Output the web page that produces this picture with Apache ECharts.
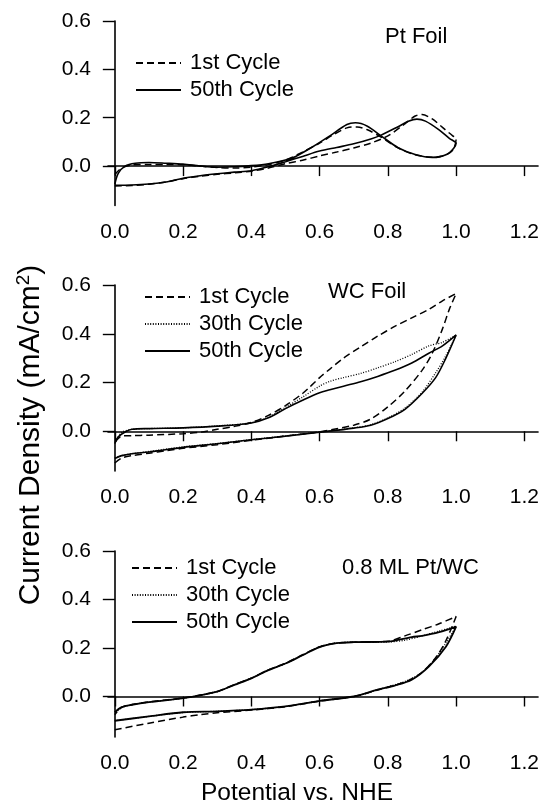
<!DOCTYPE html>
<html>
<head>
<meta charset="utf-8">
<script src="https://cdn.jsdelivr.net/npm/echarts@6/dist/echarts.min.js"></script>
<style>
  html, body { margin: 0; padding: 0; background: #fff; }
  #chart { width: 542px; height: 804px; }
</style>
</head>
<body>
<div id="chart"></div>
<script>
// tick values shared by every panel
const xTicks = [0, 0.2, 0.4, 0.6, 0.8, 1.0, 1.2]
const yTicks = [0, 0.2, 0.4, 0.6]

// Pt Foil: forward sweep 0 -> 1, then back 1 -> 0
const ptCycle1 = [
  [0, -0.082], [0.05, -0.08], [0.1, -0.075], [0.15, -0.066], [0.2, -0.052], [0.25, -0.042],
  [0.3, -0.034], [0.35, -0.028], [0.4, -0.021], [0.45, -0.008], [0.5, 0.01], [0.55, 0.024],
  [0.6, 0.042], [0.65, 0.058], [0.7, 0.075], [0.75, 0.095], [0.8, 0.125], [0.85, 0.175],
  [0.88, 0.207], [0.9, 0.213], [0.93, 0.195], [0.96, 0.16], [0.99, 0.125], [1.0, 0.115],
  [0.99, 0.065], [0.96, 0.042], [0.93, 0.037], [0.88, 0.047], [0.83, 0.075], [0.78, 0.12],
  [0.74, 0.15], [0.71, 0.162], [0.68, 0.158], [0.64, 0.13], [0.6, 0.095], [0.55, 0.058],
  [0.5, 0.025], [0.45, 0.006], [0.4, -0.004], [0.35, -0.008], [0.3, -0.006], [0.25, 0.0],
  [0.2, 0.006], [0.15, 0.007], [0.1, 0.007], [0.05, 0.005], [0.02, -0.008], [0, -0.035]
]
const ptCycle50 = [
  [0, -0.079], [0.05, -0.078], [0.1, -0.074], [0.15, -0.066], [0.2, -0.05], [0.25, -0.04],
  [0.3, -0.032], [0.35, -0.025], [0.4, -0.019], [0.45, -0.003], [0.5, 0.018], [0.55, 0.04],
  [0.6, 0.062], [0.65, 0.077], [0.7, 0.092], [0.75, 0.112], [0.78, 0.128], [0.83, 0.163],
  [0.86, 0.185], [0.885, 0.194], [0.91, 0.186], [0.95, 0.15], [0.98, 0.115], [1.0, 0.094],
  [0.98, 0.055], [0.95, 0.038], [0.93, 0.036], [0.88, 0.048], [0.83, 0.076], [0.78, 0.125],
  [0.74, 0.165], [0.705, 0.179], [0.68, 0.172], [0.63, 0.125], [0.58, 0.08], [0.53, 0.04],
  [0.5, 0.025], [0.45, 0.01], [0.4, 0.002], [0.35, -0.003], [0.3, -0.005], [0.25, 0.0],
  [0.2, 0.008], [0.15, 0.012], [0.1, 0.015], [0.06, 0.012], [0.03, 0.0], [0.01, -0.03], [0, -0.075]
]

// WC Foil
const wcCycle1 = [
  [0, -0.13], [0.02, -0.11], [0.05, -0.1], [0.1, -0.09], [0.15, -0.08], [0.2, -0.07],
  [0.3, -0.055], [0.4, -0.037], [0.5, -0.02], [0.6, -0.002], [0.7, 0.025], [0.75, 0.05],
  [0.8, 0.1], [0.85, 0.165], [0.9, 0.25], [0.93, 0.32], [0.96, 0.42], [0.98, 0.5], [1.0, 0.565],
  [0.96, 0.535], [0.92, 0.5], [0.87, 0.465], [0.82, 0.43], [0.77, 0.39], [0.72, 0.346],
  [0.67, 0.3], [0.63, 0.255], [0.6, 0.22], [0.57, 0.18], [0.55, 0.155], [0.5, 0.105],
  [0.45, 0.065], [0.4, 0.036], [0.35, 0.02], [0.3, 0.008], [0.25, -0.004], [0.2, -0.01],
  [0.1, -0.016], [0.05, -0.018], [0.02, -0.02], [0, -0.045]
]
const wcCycle30 = [
  [0, -0.11], [0.02, -0.1], [0.05, -0.092], [0.1, -0.083], [0.2, -0.064], [0.3, -0.05],
  [0.4, -0.034], [0.5, -0.019], [0.6, -0.003], [0.7, 0.014], [0.75, 0.027], [0.8, 0.055],
  [0.85, 0.095], [0.9, 0.16], [0.94, 0.24], [0.97, 0.31], [1.0, 0.395],
  [0.96, 0.365], [0.92, 0.35], [0.87, 0.315], [0.82, 0.285], [0.77, 0.26], [0.72, 0.237],
  [0.67, 0.22], [0.63, 0.205], [0.6, 0.185], [0.55, 0.14], [0.5, 0.098], [0.45, 0.058],
  [0.4, 0.035], [0.3, 0.022], [0.2, 0.014], [0.1, 0.011], [0.05, 0.008], [0.02, -0.005], [0, -0.05]
]
const wcCycle50 = [
  [0, -0.112], [0.02, -0.1], [0.05, -0.092], [0.1, -0.085], [0.2, -0.066], [0.3, -0.051],
  [0.4, -0.035], [0.5, -0.02], [0.6, -0.004], [0.7, 0.013], [0.75, 0.025], [0.8, 0.052],
  [0.85, 0.09], [0.9, 0.155], [0.94, 0.22], [0.97, 0.3], [1.0, 0.395],
  [0.96, 0.35], [0.92, 0.32], [0.87, 0.28], [0.82, 0.25], [0.77, 0.225], [0.72, 0.203],
  [0.67, 0.185], [0.63, 0.17], [0.6, 0.158], [0.55, 0.127], [0.5, 0.093], [0.45, 0.055],
  [0.4, 0.034], [0.3, 0.021], [0.2, 0.014], [0.1, 0.011], [0.05, 0.008], [0.03, -0.003],
  [0.01, -0.023], [0, -0.05]
]

// 0.8 ML Pt/WC
const ptwcCycle1 = [
  [0, -0.137], [0.1, -0.11], [0.2, -0.085], [0.25, -0.075], [0.3, -0.067], [0.4, -0.056],
  [0.5, -0.042], [0.6, -0.019], [0.7, 0.0], [0.77, 0.027], [0.85, 0.06], [0.9, 0.1],
  [0.94, 0.16], [0.97, 0.23], [1.0, 0.33],
  [0.95, 0.3], [0.9, 0.275], [0.85, 0.25], [0.8, 0.228], [0.7, 0.224], [0.65, 0.22],
  [0.6, 0.205], [0.55, 0.172], [0.5, 0.137], [0.45, 0.11], [0.4, 0.076], [0.35, 0.049],
  [0.3, 0.021], [0.2, -0.006], [0.1, -0.022], [0.05, -0.033], [0.02, -0.045], [0, -0.075]
]
const ptwcCycle30 = [
  [0, -0.1], [0.1, -0.082], [0.2, -0.066], [0.3, -0.061], [0.4, -0.054], [0.5, -0.041],
  [0.6, -0.018], [0.7, 0.0], [0.77, 0.028], [0.85, 0.062], [0.9, 0.1], [0.94, 0.16],
  [0.97, 0.22], [1.0, 0.29],
  [0.95, 0.27], [0.9, 0.25], [0.85, 0.232], [0.8, 0.225], [0.7, 0.224], [0.65, 0.221],
  [0.6, 0.205], [0.55, 0.171], [0.5, 0.137], [0.45, 0.11], [0.4, 0.076], [0.35, 0.048],
  [0.3, 0.02], [0.2, -0.007], [0.1, -0.023], [0.05, -0.034], [0.02, -0.046], [0, -0.07]
]
const ptwcCycle50 = [
  [0, -0.1], [0.1, -0.082], [0.2, -0.065], [0.3, -0.061], [0.4, -0.054], [0.5, -0.041],
  [0.6, -0.018], [0.7, 0.0], [0.77, 0.028], [0.82, 0.045], [0.87, 0.069], [0.92, 0.123],
  [0.97, 0.205], [1.0, 0.288],
  [0.95, 0.265], [0.9, 0.25], [0.87, 0.245], [0.8, 0.226], [0.7, 0.224], [0.65, 0.22],
  [0.6, 0.204], [0.55, 0.17], [0.5, 0.136], [0.45, 0.109], [0.4, 0.075], [0.35, 0.048],
  [0.3, 0.02], [0.2, -0.007], [0.1, -0.023], [0.05, -0.034], [0.02, -0.044], [0, -0.065]
]

const font = 'Liberation Sans, Arial, Helvetica, sans-serif'
const dashed = [7, 4]
const dotted = [1, 1.6]

const panels = [
  { top: 21, height: 184.5, min: -0.163 },
  { top: 285, height: 186, min: -0.163 },
  { top: 551, height: 186, min: -0.167 }
]

function makeSeries(name, data, idx, type, width) {
  return {
    type: 'line',
    name: name,
    xAxisIndex: idx,
    yAxisIndex: idx,
    data: data,
    symbol: 'none',
    smooth: 0.3,
    silent: true,
    lineStyle: { color: '#000', width: width, type: type }
  }
}

const chart = echarts.init(document.getElementById('chart'))

const option = {
  backgroundColor: '#fff',
  animation: false,
  textStyle: { fontFamily: font },
  grid: panels.map(p => ({ left: 108, right: 2, top: p.top, height: p.height })),
  xAxis: panels.map((p, i) => ({
    type: 'value',
    gridIndex: i,
    min: -0.02,
    max: 1.24,
    axisLine: { lineStyle: { color: '#000', width: 1.6 } },
    axisTick: { customValues: xTicks, length: 10, lineStyle: { color: '#000', width: 1.4 } },
    axisLabel: {
      customValues: xTicks,
      margin: 16,
      color: '#000',
      fontSize: 21,
      fontFamily: font,
      formatter: v => v.toFixed(1)
    },
    splitLine: { show: false }
  })),
  yAxis: panels.map((p, i) => ({
    type: 'value',
    gridIndex: i,
    min: p.min,
    max: 0.6,
    axisLine: { show: true, lineStyle: { color: '#000', width: 1.6 } },
    axisTick: { customValues: yTicks, length: 12, lineStyle: { color: '#000', width: 1.4 } },
    axisLabel: {
      customValues: yTicks,
      margin: 17,
      color: '#000',
      fontSize: 21,
      fontFamily: font,
      formatter: v => v.toFixed(1)
    },
    splitLine: { show: false }
  })),
  legend: [
    { data: ['1st Cycle', '50th Cycle'], left: 135, top: 52 },
    { data: ['1st Cycle', '30th Cycle', '50th Cycle'], left: 144, top: 286 },
    { data: ['1st Cycle', '30th Cycle', '50th Cycle'], left: 131, top: 557 }
  ].map(l => Object.assign({
    orient: 'vertical',
    padding: 0,
    itemWidth: 45,
    itemHeight: 14,
    itemGap: 5,
    selectedMode: false,
    itemStyle: { opacity: 0 },
    textStyle: { color: '#000', fontSize: 22, fontFamily: font, padding: [0, 0, 0, 4] }
  }, l)),
  graphic: [
    { type: 'text', left: 385, top: 26, style: { text: 'Pt Foil', font: '22px ' + font, fill: '#000' } },
    { type: 'text', left: 328, top: 281, style: { text: 'WC Foil', font: '22px ' + font, fill: '#000' } },
    { type: 'text', left: 342, top: 557, style: { text: '0.8 ML Pt/WC', font: '22px ' + font, fill: '#000' } },
    {
      type: 'text', x: 297, y: 793,
      style: { text: 'Potential vs. NHE', font: '24.5px ' + font, fill: '#000', align: 'center', verticalAlign: 'middle' }
    },
    {
      type: 'text', x: 31, y: 435, rotation: Math.PI / 2,
      style: {
        text: 'Current Density (mA/cm{sup|2})',
        font: '30px ' + font,
        fill: '#000',
        align: 'center',
        verticalAlign: 'middle',
        rich: {
          sup: { font: '19px ' + font, fill: '#000', verticalAlign: 'top', padding: [0, 0, 15, 0] }
        }
      }
    }
  ],
  series: [
    makeSeries('1st Cycle', ptCycle1, 0, dashed, 1.5),
    makeSeries('50th Cycle', ptCycle50, 0, 'solid', 1.6),
    makeSeries('1st Cycle', wcCycle1, 1, dashed, 1.5),
    makeSeries('30th Cycle', wcCycle30, 1, dotted, 1.3),
    makeSeries('50th Cycle', wcCycle50, 1, 'solid', 1.6),
    makeSeries('1st Cycle', ptwcCycle1, 2, dashed, 1.5),
    makeSeries('30th Cycle', ptwcCycle30, 2, dotted, 1.3),
    makeSeries('50th Cycle', ptwcCycle50, 2, 'solid', 1.8)
  ]
}

chart.setOption(option)
</script>
</body>
</html>
